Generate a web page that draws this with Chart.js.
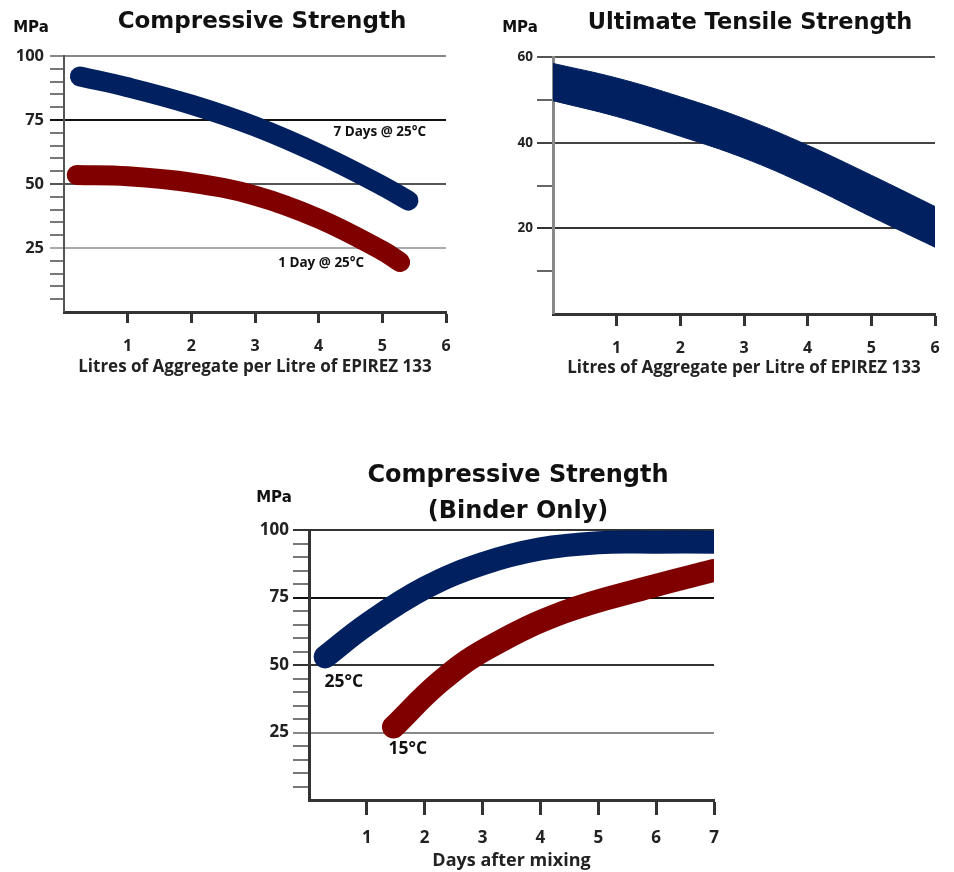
<!DOCTYPE html>
<html><head><meta charset="utf-8">
<script src="https://cdn.jsdelivr.net/npm/chart.js@4.4.0/dist/chart.umd.min.js"></script>
<style>
html,body{margin:0;padding:0;background:#fff;width:954px;height:872px;overflow:hidden}
canvas{position:absolute}
</style></head><body>
<canvas id="c1" width="477" height="400" style="left:0;top:0;width:477px;height:400px"></canvas>
<canvas id="c2" width="477" height="400" style="left:477px;top:0;width:477px;height:400px"></canvas>
<canvas id="c3" width="554" height="432" style="left:200px;top:440px;width:554px;height:432px"></canvas>
<script>
// ---------- DATA ----------
// Chart 1: Compressive Strength vs litres of aggregate
const cs7DayX  = [0.25, 1, 2, 3, 4, 5, 5.41];
const cs7DayY  = [92, 87.8, 81, 72.5, 61.8, 49.3, 43.5];
const cs1DayX  = [0.2, 1, 2, 3, 4, 5, 5.28];
const cs1DayY  = [53.5, 53, 50.5, 45.5, 36.5, 24, 19.5];
const csYLabels = [25, 50, 75, 100];
const aggXLabels = [1, 2, 3, 4, 5, 6];

// Chart 2: Ultimate Tensile Strength band
const utsX     = [0, 1, 2, 3, 4, 5, 6];
const utsUpper = [58.5, 55.1, 50.7, 45.6, 39.4, 32.4, 25.1];
const utsLower = [49.8, 46.1, 41.5, 36.4, 30.0, 22.7, 15.6];
const utsYLabels = [20, 40, 60];

// Chart 3: Compressive Strength (Binder Only) vs days
const b25X = [0.28, 1, 2, 3, 4, 5, 6, 7];
const b25Y = [53, 65, 78.5, 87.5, 93, 95.3, 95.5, 95.5];
const b15X = [1.46, 2.26, 3.07, 4.4, 5.95, 7];
const b15Y = [27, 43.7, 56, 69.5, 79.2, 85];
const binderYLabels = [25, 50, 75, 100];
const dayXLabels = [1, 2, 3, 4, 5, 6, 7];

// ---------- HELPERS ----------
const NAVY = 'rgb(0,32,96)';
const MAROON = 'rgb(128,0,0)';
const pts = (xs, ys) => xs.map((x, i) => ({x, y: ys[i]}));

const textPlugin = {
  id: 'texts',
  afterDraw(chart, args, opts) {
    const ctx = chart.ctx;
    (opts.items || []).forEach(it => {
      ctx.save();
      ctx.font = it.font;
      ctx.fillStyle = it.color || '#111';
      ctx.textAlign = it.align || 'center';
      ctx.textBaseline = 'middle';
      let x = it.x, y = it.y;
      if (it.data) {
        x = chart.scales.x.getPixelForValue(it.data[0]);
        y = chart.scales.y.getPixelForValue(it.data[1]);
      }
      ctx.fillText(it.text, x, y);
      ctx.restore();
    });
  }
};

function yAxis(cfg) {
  return {
    type: 'linear', position: 'left', min: 0, max: cfg.max,
    afterFit: s => { s.width = cfg.width; },
    border: {display: true, color: cfg.borderColor, width: cfg.borderWidth},
    grid: {
      drawOnChartArea: true, drawTicks: true, tickLength: cfg.tickLen,
      color: c => cfg.major[c.tick.value] || 'rgba(0,0,0,0)',
      lineWidth: c => cfg.major[c.tick.value] ? cfg.gridWidth : 0,
      tickColor: c => c.tick.value === 0 ? 'rgba(0,0,0,0)' : (cfg.major[c.tick.value] || cfg.minorColor),
      tickWidth: c => cfg.major[c.tick.value] ? cfg.gridWidth : 2
    },
    ticks: {
      stepSize: cfg.step, autoSkip: false, padding: cfg.pad, color: '#222',
      font: {family: 'Open Sans', size: cfg.fontSize, weight: 'bold'},
      callback: v => cfg.labels.includes(v) ? String(v) : ''
    }
  };
}

function xAxis(cfg) {
  return {
    type: 'linear', position: 'bottom', min: 0, max: cfg.max,
    afterFit: s => { s.height = cfg.height; },
    border: {display: true, color: '#333', width: 3},
    grid: {
      drawOnChartArea: false, drawTicks: true, tickLength: cfg.tickLen,
      tickColor: c => c.tick.value === 0 ? 'rgba(0,0,0,0)' : '#333',
      tickWidth: 3
    },
    ticks: {
      stepSize: 1, autoSkip: false, maxRotation: 0, padding: cfg.pad, color: '#222',
      font: {family: 'Open Sans', size: cfg.fontSize, weight: 'bold'},
      callback: v => cfg.labels.includes(v) ? String(v) : ''
    },
    title: {
      display: true, text: cfg.title, color: '#222', padding: 0,
      font: {family: 'Open Sans', size: cfg.titleSize, weight: 'bold'}
    }
  };
}

const baseOpts = {
  responsive: false, animation: false, events: [],
  plugins: {legend: {display: false}, tooltip: {enabled: false}, title: {display: false}}
};

const thickLine = (data, color, width, extra) => Object.assign({
  data, borderColor: color, borderWidth: width, borderCapStyle: 'round',
  borderJoinStyle: 'round', pointRadius: 0, tension: 0.4, fill: false
}, extra || {});

// ---------- CHART 1 ----------
new Chart(document.getElementById('c1'), {
  type: 'line',
  data: {datasets: [
    thickLine(pts(cs7DayX, cs7DayY), NAVY, 20),
    thickLine(pts(cs1DayX, cs1DayY), MAROON, 20)
  ]},
  options: Object.assign({}, baseOpts, {
    layout: {padding: {left: 0, top: 56, right: 31, bottom: 23}},
    scales: {
      x: xAxis({max: 6, height: 65, tickLen: 11, pad: 14, fontSize: 16, labels: aggXLabels,
                title: 'Litres of Aggregate per Litre of EPIREZ 133', titleSize: 17}),
      y: yAxis({max: 100, step: 5, width: 64, tickLen: 14, pad: 6, fontSize: 16.5, labels: csYLabels,
                major: {100: '#888', 75: '#111', 50: '#555', 25: '#aaa'}, minorColor: '#777',
                gridWidth: 2, borderColor: '#555', borderWidth: 2})
    },
    plugins: Object.assign({}, baseOpts.plugins, {
      texts: {items: [
        {text: 'Compressive Strength', x: 262, y: 22, font: 'bold 23px "DejaVu Sans"'},
        {text: 'MPa', x: 31, y: 28, font: 'bold 15px "DejaVu Sans"'},
        {text: '7 Days @ 25°C', data: [4.96, 70.3], font: 'bold 13.5px "Open Sans"'},
        {text: '1 Day @ 25°C', data: [4.04, 19.1], font: 'bold 13.5px "Open Sans"'}
      ]}
    })
  }),
  plugins: [textPlugin]
});

// ---------- CHART 2 ----------
new Chart(document.getElementById('c2'), {
  type: 'line',
  data: {datasets: [
    {data: pts(utsX, utsUpper), borderColor: NAVY, backgroundColor: NAVY, borderWidth: 1,
     pointRadius: 0, tension: 0.4, fill: '+1'},
    {data: pts(utsX, utsLower), borderColor: NAVY, backgroundColor: NAVY, borderWidth: 1,
     pointRadius: 0, tension: 0.4, fill: false}
  ]},
  options: Object.assign({}, baseOpts, {
    layout: {padding: {left: 0, top: 57, right: 19, bottom: 22}},
    scales: {
      x: xAxis({max: 6, height: 64, tickLen: 12, pad: 13, fontSize: 16, labels: aggXLabels,
                title: 'Litres of Aggregate per Litre of EPIREZ 133', titleSize: 17}),
      y: yAxis({max: 60, step: 10, width: 76, tickLen: 16, pad: 4, fontSize: 13.5, labels: utsYLabels,
                major: {60: '#555', 40: '#444', 20: '#333'}, minorColor: '#666',
                gridWidth: 2, borderColor: '#888', borderWidth: 3})
    },
    plugins: Object.assign({}, baseOpts.plugins, {
      filler: {propagate: false},
      texts: {items: [
        {text: 'Ultimate Tensile Strength', x: 273, y: 23, font: 'bold 22.5px "DejaVu Sans"'},
        {text: 'MPa', x: 43, y: 28, font: 'bold 15px "DejaVu Sans"'}
      ]}
    })
  }),
  plugins: [textPlugin]
});

// ---------- CHART 3 ----------
const clipRight = {left: false, top: false, right: 0, bottom: false};
new Chart(document.getElementById('c3'), {
  type: 'line',
  data: {datasets: [
    thickLine(pts(b25X, b25Y), NAVY, 23, {clip: clipRight}),
    thickLine(pts(b15X, b15Y), MAROON, 23, {clip: clipRight})
  ]},
  options: Object.assign({}, baseOpts, {
    layout: {padding: {left: 0, top: 90, right: 40, bottom: 0}},
    scales: {
      x: xAxis({max: 7, height: 72, tickLen: 15, pad: 13, fontSize: 17, labels: dayXLabels,
                title: 'Days after mixing', titleSize: 18}),
      y: yAxis({max: 100, step: 5, width: 109, tickLen: 16, pad: 4, fontSize: 17, labels: binderYLabels,
                major: {100: '#333', 75: '#111', 50: '#333', 25: '#888'}, minorColor: '#777',
                gridWidth: 2, borderColor: '#333', borderWidth: 3})
    },
    plugins: Object.assign({}, baseOpts.plugins, {
      texts: {items: [
        {text: 'Compressive Strength', x: 318, y: 36, font: 'bold 24px "DejaVu Sans"'},
        {text: '(Binder Only)', x: 318, y: 72, font: 'bold 24px "DejaVu Sans"'},
        {text: 'MPa', x: 74, y: 58, font: 'bold 15px "DejaVu Sans"'},
        {text: '25°C', data: [0.6, 43.6], font: 'bold 17.5px "Open Sans"'},
        {text: '15°C', data: [1.71, 18.8], font: 'bold 17.5px "Open Sans"'}
      ]}
    })
  }),
  plugins: [textPlugin]
});
</script>
</body></html>
